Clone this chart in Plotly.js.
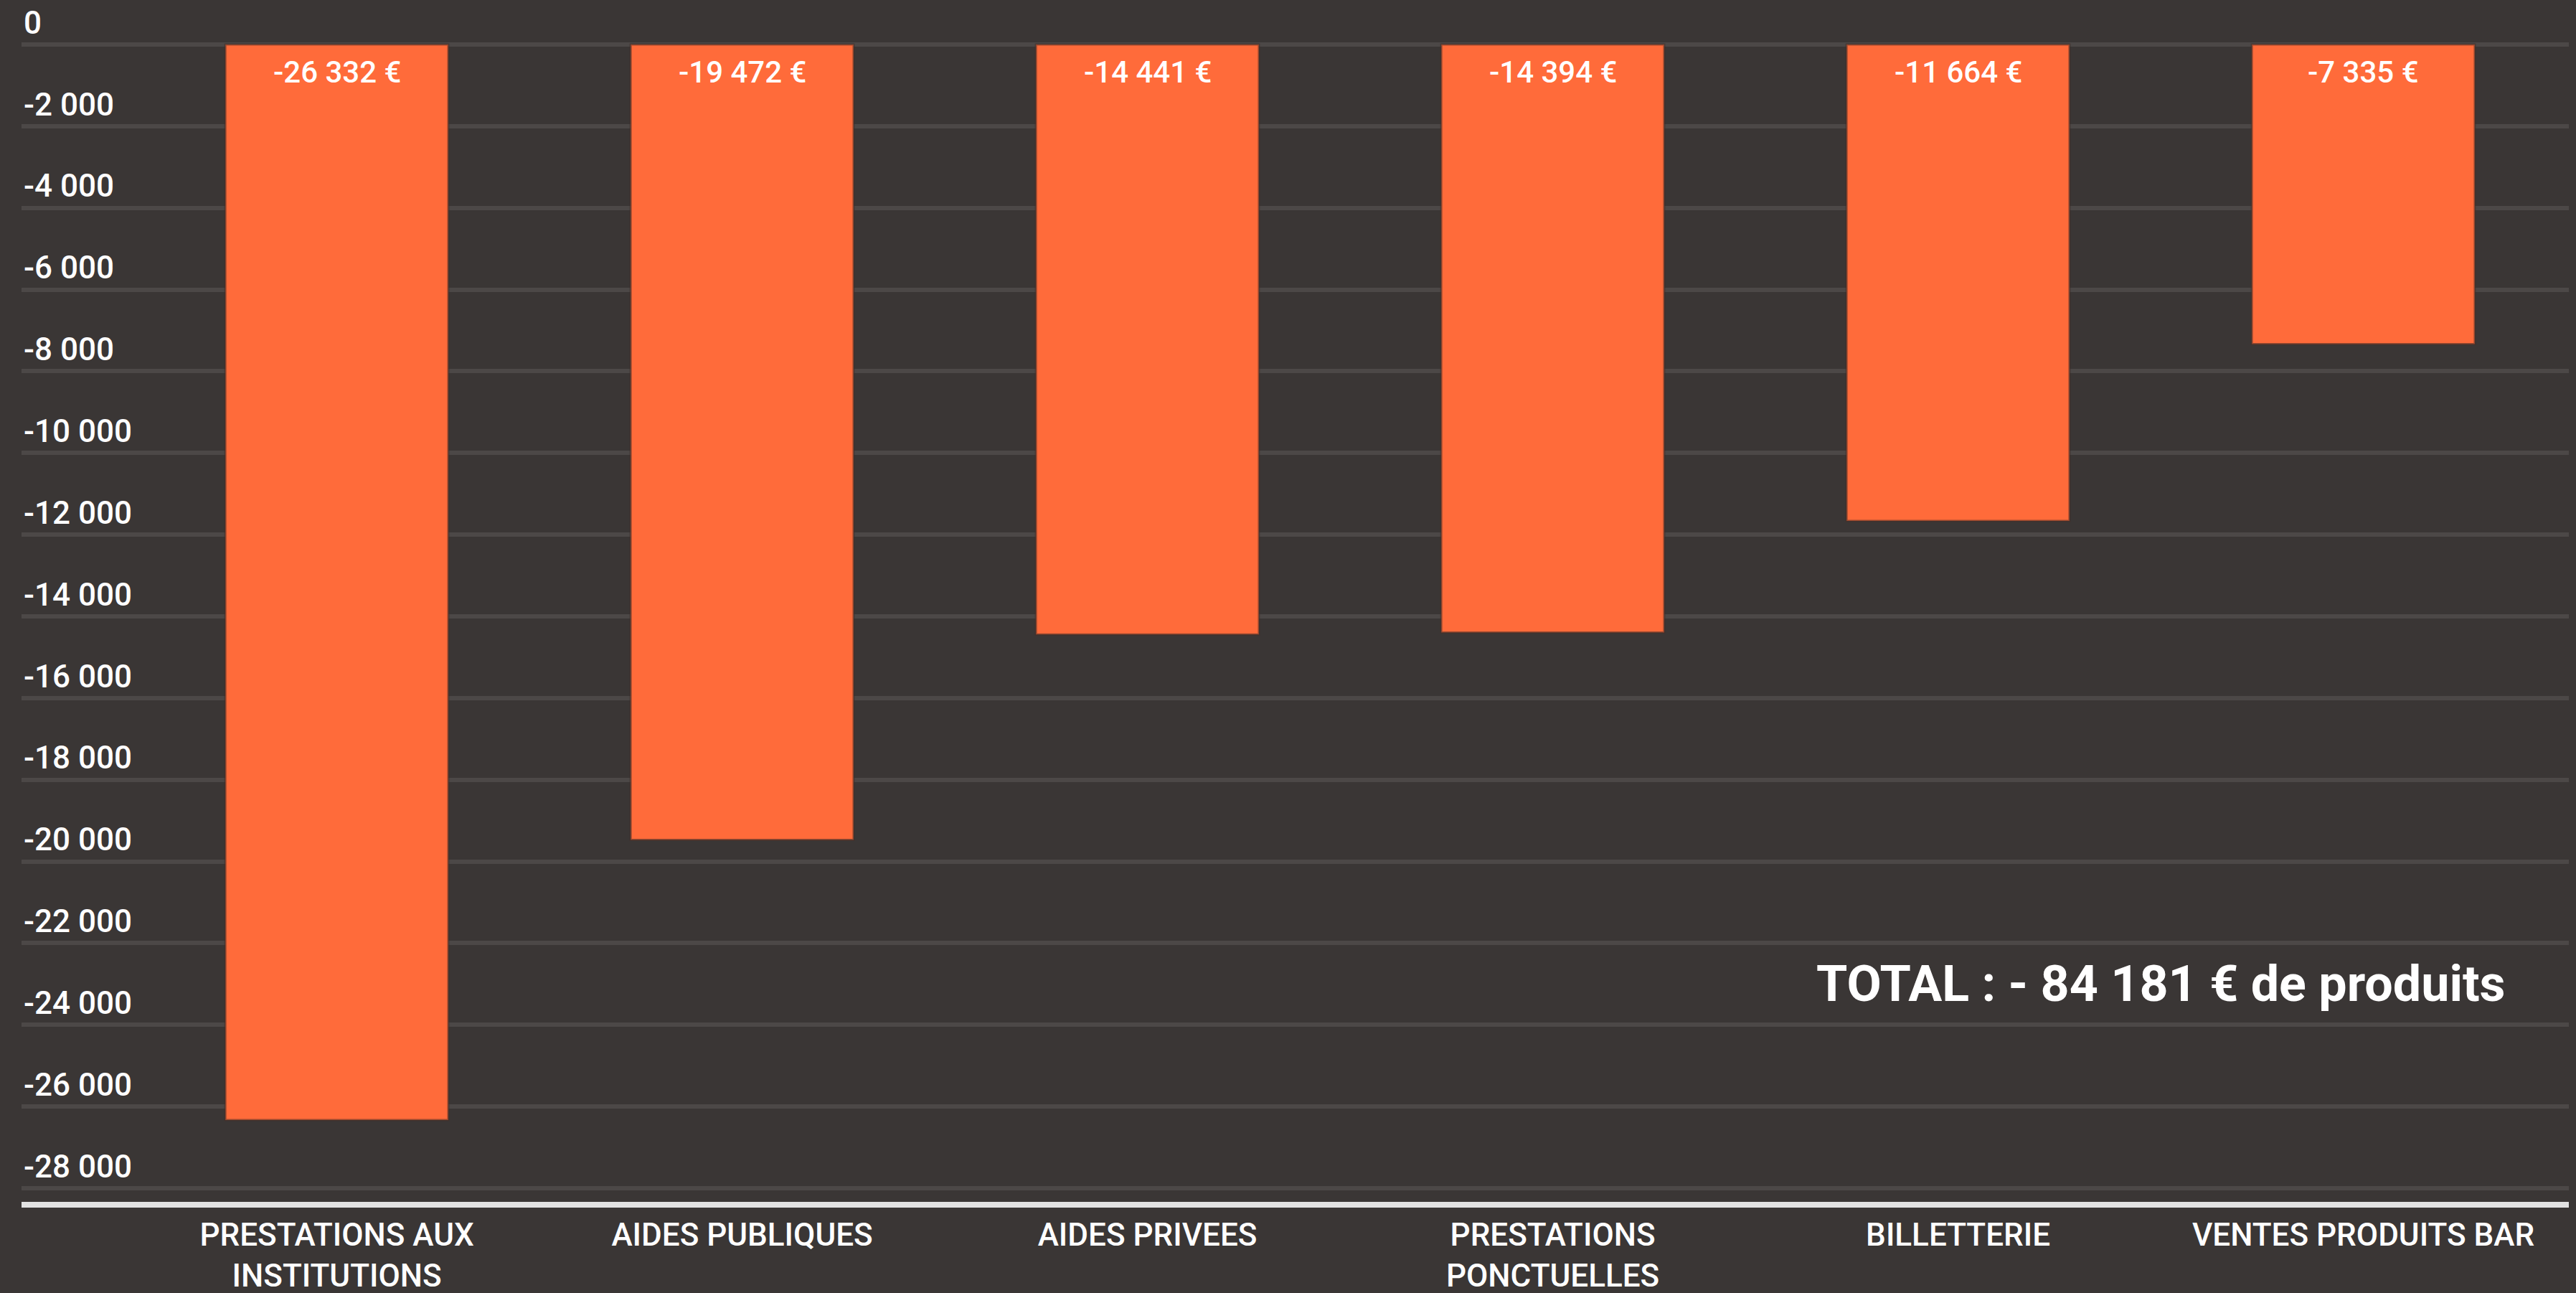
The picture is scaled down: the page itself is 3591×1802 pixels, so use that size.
<!DOCTYPE html>
<html>
<head>
<meta charset="utf-8">
<script src="https://cdn.plot.ly/plotly-3.0.1.min.js"></script>
<style>
  html, body { margin: 0; padding: 0; background: #3a3635; }
  #chart { width: 3591px; height: 1802px; }
</style>
</head>
<body>
<div id="chart"></div>
<script>
const categories = [
  "PRESTATIONS AUX<br>INSTITUTIONS",
  "AIDES PUBLIQUES",
  "AIDES PRIVEES",
  "PRESTATIONS<br>PONCTUELLES",
  "BILLETTERIE",
  "VENTES PRODUITS BAR"
];
const values = [-26332, -19472, -14441, -14394, -11664, -7335];
const yTickValues = [0, -2000, -4000, -6000, -8000, -10000, -12000, -14000,
                     -16000, -18000, -20000, -22000, -24000, -26000, -28000];
const yTickLabels = ["0", "-2 000", "-4 000", "-6 000", "-8 000", "-10 000", "-12 000", "-14 000",
                     "-16 000", "-18 000", "-20 000", "-22 000", "-24 000", "-26 000", "-28 000"];
const totalText = "TOTAL : - 84 181 € de produits";

const bg = "#3a3635";
const barColor = "#ff6b3a";

function fmtEuro(v) {
  const s = Math.abs(v).toString().replace(/\B(?=(\d{3})+(?!\d))/g, " ");
  return (v < 0 ? "-" : "") + s + " €";
}

const trace = {
  type: "bar",
  x: categories,
  y: values,
  marker: { color: barColor, line: { color: "rgba(70,45,38,0.55)", width: 3 } },
  hoverinfo: "skip"
};

const valueAnnotations = categories.map((c, i) => ({
  xref: "x", yref: "y",
  x: c, y: 0,
  xanchor: "center", yanchor: "top",
  yshift: -12,
  text: fmtEuro(values[i]),
  showarrow: false,
  font: { family: "Roboto", size: 42, color: "#ffffff", weight: 500 }
}));

const layout = {
  width: 3591,
  height: 1802,
  paper_bgcolor: bg,
  plot_bgcolor: bg,
  margin: { l: 30, r: 10, t: 0, b: 127, pad: 0 },
  bargap: 0.45,
  showlegend: false,
  font: { family: "Roboto", color: "#ffffff", size: 44 },
  xaxis: {
    type: "category",
    range: [-0.778, 5.507],
    showgrid: false,
    showline: true,
    linecolor: "#e2e2e2",
    linewidth: 8,
    ticks: "",
    tickfont: { family: "Roboto", size: 44, color: "#ffffff", weight: 500 },
    fixedrange: true
  },
  yaxis: {
    range: [-28333, 1090],
    tickmode: "array",
    tickvals: yTickValues,
    ticktext: yTickLabels,
    ticklabelposition: "inside top",
    tickfont: { family: "Roboto", size: 44, color: "#ffffff", weight: 500 },
    showgrid: true,
    gridcolor: "#4c4847",
    gridwidth: 6,
    zeroline: false,
    showline: false,
    ticks: "",
    fixedrange: true
  },
  annotations: valueAnnotations.concat([{
    xref: "paper", yref: "paper",
    x: 0.8398, y: 0.1815,
    xanchor: "center", yanchor: "middle",
    text: "<b>" + totalText + "</b>",
    showarrow: false,
    font: { family: "Roboto", size: 70, color: "#ffffff" }
  }])
};

Plotly.newPlot("chart", [trace], layout, { staticPlot: true, displayModeBar: false });
</script>
</body>
</html>
